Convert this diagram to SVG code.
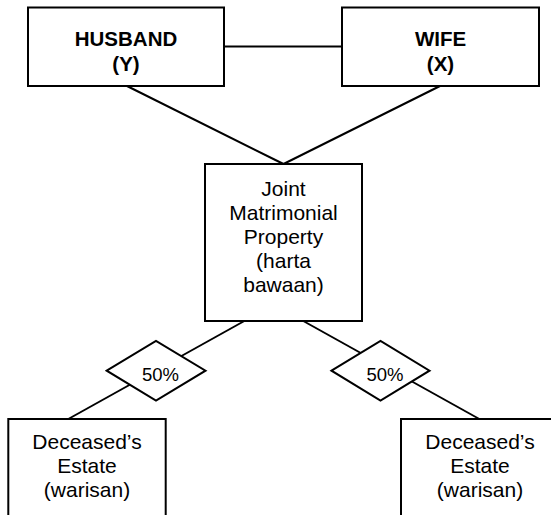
<svg xmlns="http://www.w3.org/2000/svg" width="551" height="515" viewBox="0 0 551 515">
<style>
.box{fill:#fff;stroke:#000;stroke-width:2}
.ln{stroke:#000;stroke-width:2;fill:none}
text{font-family:"Liberation Sans",Arial,sans-serif;fill:#000;text-anchor:middle}
.b{font-weight:bold;font-size:20.5px}
.r{font-size:21px}
.p{font-size:18.5px}
</style>
<rect width="551" height="515" fill="#fff"/>
<g id="connectors">
<line class="ln" x1="224" y1="46.5" x2="342" y2="46.5"/>
<line class="ln" x1="127" y1="86" x2="283.5" y2="164"/>
<line class="ln" x1="440" y1="86" x2="283.5" y2="164"/>
<line class="ln" x1="244.3" y1="321" x2="68.3" y2="419"/>
<line class="ln" x1="303.3" y1="321" x2="479.3" y2="419"/>
</g>
<g id="husband">
<rect class="box" x="28" y="7.5" width="196" height="78.5"/>
<text class="b" x="126" y="46">HUSBAND</text>
<text class="b" x="126" y="71">(Y)</text>
</g>
<g id="wife">
<rect class="box" x="342" y="7.5" width="197" height="78.5"/>
<text class="b" x="440.5" y="46">WIFE</text>
<text class="b" x="440.5" y="71">(X)</text>
</g>
<g id="joint">
<rect class="box" x="205" y="164" width="157" height="157"/>
<text class="r" x="283.5" y="196">Joint</text>
<text class="r" x="283.5" y="220">Matrimonial</text>
<text class="r" x="283.5" y="244">Property</text>
<text class="r" x="283.5" y="268">(harta</text>
<text class="r" x="283.5" y="292">bawaan)</text>
</g>
<g id="share-left">
<polygon class="box" points="106.7,370.7 156,341 205.5,370.7 156,400.5"/>
<text class="p" x="160.5" y="380.5">50%</text>
</g>
<g id="share-right">
<polygon class="box" points="331.5,370.7 380.5,341 429.5,370.7 380.5,400.5"/>
<text class="p" x="385" y="380.5">50%</text>
</g>
<g id="estate-left">
<rect class="box" x="8.3" y="419" width="157.4" height="110"/>
<text class="r" x="87" y="449">Deceased’s</text>
<text class="r" x="87" y="473">Estate</text>
<text class="r" x="87" y="497">(warisan)</text>
</g>
<g id="estate-right">
<rect class="box" x="401" y="419" width="158" height="110"/>
<text class="r" x="480" y="449">Deceased’s</text>
<text class="r" x="480" y="473">Estate</text>
<text class="r" x="480" y="497">(warisan)</text>
</g>
</svg>
